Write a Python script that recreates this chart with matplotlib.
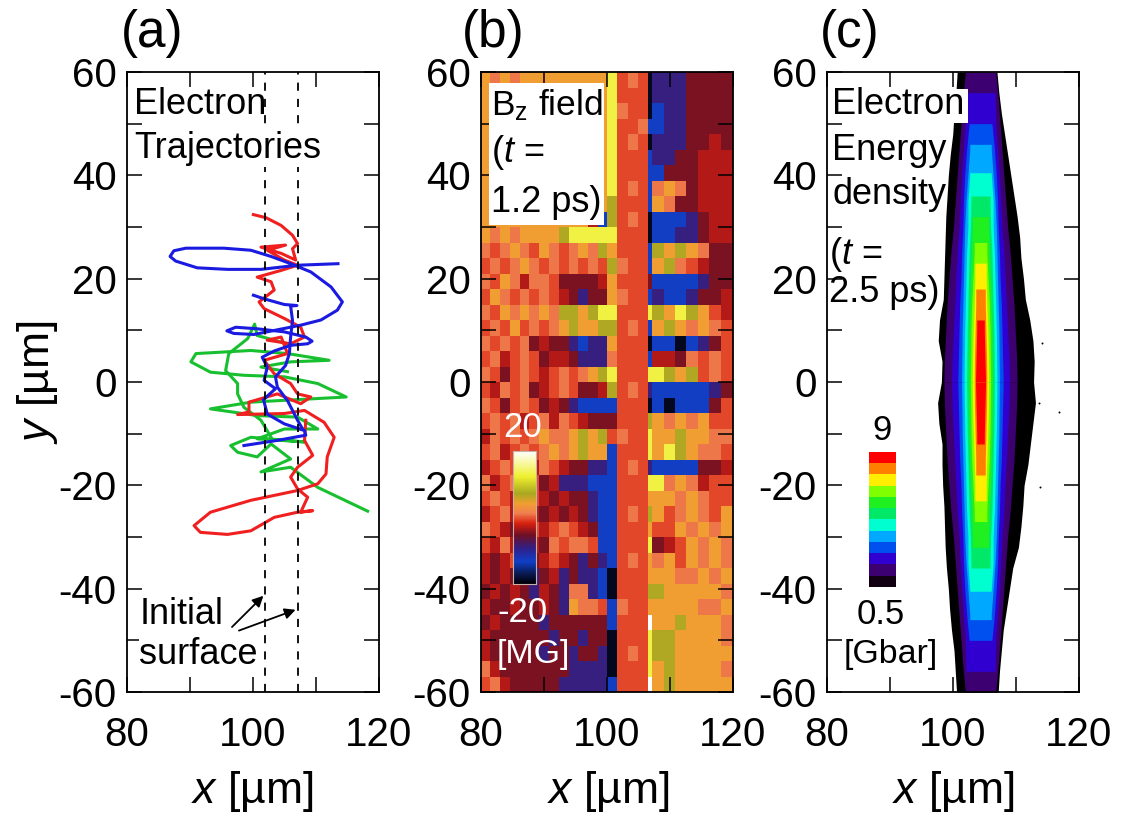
import numpy as np
import matplotlib
matplotlib.use("Agg")
import matplotlib.pyplot as plt
from matplotlib.colors import LinearSegmentedColormap, ListedColormap
from matplotlib.patches import Rectangle

plt.rcParams['font.family'] = ['Liberation Sans', 'DejaVu Sans']
plt.rcParams['mathtext.fontset'] = 'custom'
plt.rcParams['mathtext.rm'] = 'Liberation Sans'
plt.rcParams['mathtext.it'] = 'Liberation Sans:italic'

# ---------------- Shared ticks ----------------
x_ticks = [80, 90, 100, 110, 120]
x_tick_labels = ['80', '', '100', '', '120']
y_ticks = [60, 50, 40, 30, 20, 10, 0, -10, -20, -30, -40, -50, -60]
y_tick_labels = ['60', '', '40', '', '20', '', '0', '', '-20', '', '-40', '', '-60']

# ---------------- (a) trajectories ----------------
surface_x = [102.0, 107.2]

blue1_x = [113.5, 107.1, 101.3, 96.0, 91.2, 87.8, 86.9, 87.5, 89.4, 95.4, 99.7, 102.9, 106.0, 109.2, 112.4,
           114.2, 113.4, 110.8, 107.6, 103.9, 100.2, 97.0, 95.9, 97.3, 100.7, 105.0, 108.4, 109.4, 108.7,
           106.0, 103.4, 101.5, 102.3, 101.8, 103.6, 101.7, 102.3, 105.0, 108.2, 108.4, 103.9, 98.6]
blue1_y = [22.9, 22.6, 21.8, 21.8, 22.1, 23.4, 24.3, 25.4, 25.9, 25.9, 25.5, 24.3, 22.9, 21.3, 18.4,
           15.5, 13.9, 12.0, 11.0, 10.1, 9.2, 9.4, 9.9, 10.6, 10.3, 9.7, 8.7, 7.9, 7.4,
           7.1, 6.0, 4.8, 2.9, 0.3, -1.3, -3.4, -6.2, -8.1, -9.4, -10.3, -11.3, -12.3]
blue2_x = [100.1, 101.8, 105.0, 107.0, 106.0, 106.3, 106.0, 105.8, 105.2, 103.6, 103.9, 105.5, 107.1, 107.9]
blue2_y = [16.8, 16.1, 15.0, 14.8, 14.7, 11.9, 8.7, 5.5, 3.2, 1.0, -1.0, -3.6, -7.4, -9.1]

red_x = [100.1, 102.1, 104.5, 106.3, 107.1, 106.3, 106.8, 104.5, 101.3, 105.2, 102.3, 105.0, 107.1, 104.5,
         100.7, 102.9, 103.4, 101.0, 101.8, 105.0, 107.6, 108.2, 106.0, 102.3, 104.5, 105.5, 101.8, 103.4,
         106.0, 107.1, 109.2, 107.6, 103.9, 99.4, 99.4, 97.6, 105.0, 108.2, 111.3, 112.9, 111.8, 111.6,
         110.3, 107.1, 99.7, 93.3, 90.7, 91.7, 96.0, 99.7, 103.4, 107.1, 109.5, 107.6, 108.7, 107.1,
         106.0, 107.1, 109.5, 108.2, 108.4]
red_y = [32.4, 31.8, 30.3, 28.4, 26.8, 25.8, 23.6, 24.9, 26.1, 26.5, 25.5, 23.6, 22.6, 21.6,
         20.3, 19.4, 17.8, 15.5, 14.2, 12.3, 10.6, 8.7, 7.4, 8.1, 8.7, 5.5, 4.2, 1.6,
         -0.3, -2.3, -2.9, -4.2, -2.3, -3.9, -5.8, -6.3, -6.1, -5.5, -7.8, -10.7, -14.5, -17.8,
         -19.7, -21.0, -22.9, -25.2, -27.8, -29.1, -29.5, -28.8, -26.2, -25.2, -24.9, -25.2, -22.3, -20.7,
         -18.4, -16.5, -14.2, -11.3, -7.4]

green1_x = [118.2, 110.3, 106.0, 101.3, 106.0, 102.9, 100.7, 97.6, 96.5, 99.7, 108.2, 100.7, 105.0, 110.3,
            107.1, 100.7, 93.3, 99.7, 114.8, 110.3, 105.0, 98.6, 93.3, 90.2, 91.0, 99.7, 105.5, 112.1,
            106.0, 101.3, 105.5]
green1_y = [-25.0, -20.4, -16.5, -17.4, -14.9, -12.0, -14.5, -13.6, -12.3, -10.7, -11.6, -11.0, -9.1, -9.1,
            -6.8, -6.5, -5.2, -3.9, -2.9, -0.3, 1.0, 1.3, 1.9, 3.9, 5.5, 6.1, 5.5, 4.2,
            3.9, 2.9, 2.0]
green2_x = [102.9, 101.3, 98.6, 97.6, 97.6, 95.7, 96.2, 99.2, 100.3, 100.7, 105.5]
green2_y = [-10.7, -7.4, -4.9, -2.3, -0.3, 2.2, 5.5, 8.4, 11.2, 9.0, 7.4]

# ---------------- (b) Bz field, one letter per cell ----------------
# letter -> field in MG
bz_codes = {'k': -19, 'b': -13, 'n': -9, 'd': -5, 'r': -3, 'e': -0.5, 'o': 1.0, 'a': 4.2,
            'l': 7.0, 'y': 13, 'w': 20}
bz_x_edges = [80, 81.55, 83.1, 84.65, 86.2, 87.75, 89.3, 90.85, 92.4, 93.95, 95.5, 97.05, 98.6, 100.1,
              101.7, 103.3, 104.9, 106.5, 107.2, 109.0, 110.8, 112.6, 114.4, 116.2, 118.1, 120]
bz_y_edges = list(range(60, -61, -3))
# columns: 13 left, surface, 3 in the foil, surface, 7 right
bz_rows = [
    "aoaoaaaaaaaaa y eoe k nnndddd",
    "aaoaaaaaaaaaa y eee k nnndddd",
    "aaaaaaaaaaaaa y oee k bnndddd",
    "aaaaaaaaaaaaa y eeo b bnndddd",
    "aaaaaaaaaaaaa y eoe k nnnddrd",
    "aaaaaaaaaaaaa y eee b nnddrrr",
    "aaaaaaaaaaaaa y eee b bdddrrr",
    "aaaaaaaaaaaaa y eoe b oaodrrr",
    "aaaaaaaaaaaaa l eee b aoddrrr",
    "aaaaaaaaaaarb l eoe k bbbndrr",
    "aoaoaaaalyyyy y eee k bbnndrr",
    "oeoaoeaoeoaol a eee b lalaodd",
    "eoeoaoeoeoeoe l oee b aloerdd",
    "oeaorooeddddr a eee d bbbbndd",
    "eaoeoeoerdndd a oee b nbbnddr",
    "oeaoaoaollaly y eee y laylaer",
    "eoeaeoeoalaal l eoe b alaoaoe",
    "oeoeodrddnbnn a eee k bbkbnde",
    "eoreoedrrdnnn o eee b rrdoeoe",
    "oedeoereoeoal y eee y ylaleoe",
    "eroeodreoeddr l eoe n bbbbbnd",
    "oedeoedrdnbbb b eee k bkbbbde",
    "eoeoreoroerdd d eee l aoaoaee",
    "roeoeoaooalal e oee y aalaaoo",
    "eoreoeoaoalaa b eee y aylaooe",
    "reoeoroerddnn b eoe n bbbbddr",
    "oreoredrnnnbb b eee y yoaoree",
    "eoerderdrddnb b eee a aaoaoee",
    "reorerdrdrdnb b eoe l aeoaoea",
    "oerdrereoerdb b eee a eeaoaoa",
    "erorerdoeooeb b eee y dreaoao",
    "rdrerdrerdndn b eoe a oaeaoao",
    "rdrdrndrndnnb k eee a aaooaoa",
    "drdrdnrdnoonb k eee l laaaaao",
    "rddrddrdnaooe b oee a aaaaooa",
    "drddddndddddd b eee w aalaaao",
    "rddddddnddndd k eee y llaaaao",
    "rdddddnddnddn k eoe y llaaaaa",
    "ordddddddnnnn k eee y alaaaao",
    "eordddddnnnnn b eee w alaaaaa",
]
bz_stops = [(-20, '#000008'), (-17, '#0a1a50'), (-13.4, '#1040c8'), (-9.4, '#302088'), (-5.3, '#701024'),
            (-1.8, '#d8200f'), (1.3, '#f08050'), (4.3, '#f0a030'), (7.3, '#a8a820'), (12.4, '#f0f030'),
            (20, '#ffffff')]

# ---------------- (c) energy density bands ----------------
energy_levels = ['#120012', '#3c0070', '#3000d0', '#0050f0', '#00a8ff', '#00ffd0', '#00e868',
                 '#20f020', '#80ff00', '#ffee00', '#ff7f00', '#ff0000']
energy_center = 104.4
band_y = [0, 5, 10, 15, 20, 25, 30, 35, 40, 45, 50, 55, 60]
band_purple = [5.8, 5.7, 5.5, 5.3, 5.0, 4.7, 4.3, 4.0, 3.7, 3.4, 3.1, 2.8, 2.4]
band_indigo = [4.6, 4.5, 4.3, 4.1, 3.9, 3.7, 3.4, 3.2, 3.0, 2.7, 2.4, 2.3]
band_blue = [3.6, 3.5, 3.4, 3.3, 3.1, 3.0, 2.8, 2.7, 2.5, 2.2, 1.8]
band_azure = [3.0, 2.95, 2.9, 2.8, 2.7, 2.6, 2.5, 2.3, 2.0, 1.7]
band_cyan = [2.6, 2.55, 2.5, 2.4, 2.3, 2.2, 2.0, 2.0, 1.7]
band_spring = [2.2, 2.15, 2.1, 2.0, 1.9, 1.8, 1.6, 1.5]
band_green = [1.9, 1.85, 1.8, 1.7, 1.6, 1.4, 1.3]
band_yellowgreen = [1.6, 1.55, 1.5, 1.4, 1.2, 1.0]
band_yellow = [1.3, 1.25, 1.15, 1.0, 0.9]
band_orange = [1.0, 0.95, 0.85, 0.75]
band_red = [0.8, 0.7, 0.6]
# y where each band ends, centre of the plasma
band_tips = [60, 56, 50, 46, 40.5, 36, 32, 27, 23, 18, 12]

black_y = [60, 56, 52, 48, 44, 40, 36, 32, 28, 24, 20, 16, 12, 8, 4, 0, -4, -8, -12, -16, -20,
           -24, -28, -32, -36, -40, -44, -48, -52, -56, -60]
black_left = [100.7, 100.5, 100.2, 100.0, 99.6, 99.3, 99.1, 98.9, 98.8, 98.7, 98.6, 98.5, 97.9, 97.7, 98.3,
              98.2, 97.6, 97.8, 98.3, 98.3, 98.4, 98.6, 98.7, 98.8, 99.0, 99.3, 99.5, 99.8, 100.2, 100.4, 100.6]
black_right = [107.0, 107.3, 107.7, 108.2, 108.7, 109.2, 109.7, 110.2, 110.6, 110.8, 111.2, 111.5, 112.2, 112.7,
               112.9, 112.8, 113.1, 112.7, 112.3, 111.9, 111.3, 111.1, 110.8, 110.4, 109.5, 109.0, 108.5,
               108.0, 107.7, 107.4, 107.2]
speck_x = [114.2, 116.9, 113.9, 113.6]
speck_y = [7.5, -5.9, -20.4, -4.0]

# ---------------- Figure ----------------
W, H = 1123, 818
fig = plt.figure(figsize=(W / 100, H / 100), dpi=100, facecolor='white')


def make_axes(left_px):
    ax = fig.add_axes([left_px / W, 1 - 692 / H, 252.5 / W, 620 / H])
    ax.set_xlim(80, 120)
    ax.set_ylim(-60, 60)
    ax.set_xticks(x_ticks)
    ax.set_xticklabels(x_tick_labels)
    ax.set_yticks(y_ticks)
    ax.set_yticklabels(y_tick_labels)
    ax.tick_params(direction='in', top=True, right=True, length=10.5, width=1.1, labelsize=29)
    ax.tick_params(axis='x', pad=17)
    ax.tick_params(axis='y', pad=7)
    for s in ax.spines.values():
        s.set_linewidth(1.3)
        s.set_zorder(6)
    return ax


def put(px, py, s, **kw):
    kw.setdefault('fontsize', 26)
    kw.setdefault('va', 'center')
    fig.text(px / W, 1 - py / H, s, **kw)


# --- (a) ---
ax_a = make_axes(126.5)
line_style = dict(lw=2.2, solid_joinstyle='round')
ax_a.plot(green1_x, green1_y, color='#18c030', **line_style)
ax_a.plot(green2_x, green2_y, color='#18c030', **line_style)
ax_a.plot(red_x, red_y, color='#f02020', **line_style)
ax_a.plot(blue1_x, blue1_y, color='#1a1ae0', **line_style)
ax_a.plot(blue2_x, blue2_y, color='#1a1ae0', **line_style)
for sx in surface_x:
    ax_a.axvline(sx, color='black', lw=1.3, dashes=(4.5, 4.5))
ax_a.annotate('', xy=(102.0, -41), xytext=(96.4, -47.8),
              arrowprops=dict(arrowstyle='-|>', color='black', lw=1.3, mutation_scale=16))
ax_a.annotate('', xy=(107.2, -43.9), xytext=(97.4, -48.3),
              arrowprops=dict(arrowstyle='-|>', color='black', lw=1.3, mutation_scale=16))
put(134, 105, 'Electron')
put(134, 148, 'Trajectories', bbox=dict(fc='white', ec='none', pad=1))
put(140, 615, 'Initial')
put(139, 655, 'surface', bbox=dict(fc='white', ec='none', pad=0))

# --- (b) ---
ax_b = make_axes(480.5)
bz_values = np.array([[bz_codes[c] for c in row.replace(' ', '')] for row in bz_rows])
bz_cmap = LinearSegmentedColormap.from_list('bz', [((v + 20) / 40, c) for v, c in bz_stops])
ax_b.pcolormesh(bz_x_edges, bz_y_edges, bz_values, cmap=bz_cmap, vmin=-20, vmax=20, zorder=1)
ax_b.set_axisbelow(False)
ax_b.add_patch(Rectangle((81.4, 30.3), 18.1, 27.6, fc='white', ec='none', zorder=3))
put(491, 105, 'B$_{\\mathrm{z}}$ field', zorder=5, fontsize=25.5)
put(491, 153, '($t$ =', zorder=5)
put(491, 202, '1.2 ps)', zorder=5)
put(523, 427, '20', color='white', ha='center', fontsize=25)
put(523, 613, '-20', color='white', ha='center', fontsize=25)
put(533, 655, '[MG]', color='white', ha='center', fontsize=24.5)
cb_b = fig.add_axes([513 / W, 1 - 584 / H, 23 / W, 133 / H])
cb_b.imshow(np.linspace(20, -20, 200).reshape(-1, 1), cmap=bz_cmap, vmin=-20, vmax=20, aspect='auto')
cb_b.set_xticks([])
cb_b.set_yticks([])
for s in cb_b.spines.values():
    s.set_color('#c8b0a8')
    s.set_linewidth(0.8)

# --- (c) ---
ax_c = make_axes(826.5)
ax_c.fill_betweenx(black_y, black_left, black_right, color='black', lw=0, zorder=1)
ax_c.scatter(speck_x, speck_y, s=2, color='black', lw=0, zorder=1)
bands = [band_purple, band_indigo, band_blue, band_azure, band_cyan, band_spring, band_green,
         band_yellowgreen, band_yellow, band_orange, band_red]
for i, hw in enumerate(bands):
    # flat-ended band: widths at the knots, last width held up to the tip
    ys = list(band_y[:len(hw)])
    hs = list(hw)
    if band_tips[i] > ys[-1]:
        ys.append(band_tips[i])
        hs.append(hs[-1])
    ys = np.array(ys)
    hs = np.array(hs)
    for sign in (1, -1):
        ax_c.fill_betweenx(sign * ys, energy_center - hs, energy_center + hs,
                           color=energy_levels[i + 1], lw=0, zorder=2 + i * 0.01)
ax_c.add_patch(Rectangle((80.6, 50.1), 21.8, 6.6, fc='white', ec='none', zorder=3))
put(832, 105, 'Electron', zorder=5)
put(832, 150, 'Energy', zorder=5)
put(832, 195, 'density', zorder=5)
put(829, 255, '($t$ =', zorder=5)
put(829, 293, '2.5 ps)', zorder=5)
put(882, 430, '9', ha='center', fontsize=25)
put(881, 615, '0.5', ha='center', fontsize=25)
put(891, 655, '[Gbar]', ha='center', fontsize=24.5)
cb_c = fig.add_axes([869 / W, 1 - 587 / H, 27 / W, 135 / H])
cb_c.imshow(np.arange(len(energy_levels))[::-1].reshape(-1, 1), cmap=ListedColormap(energy_levels),
            aspect='auto', interpolation='nearest')
cb_c.set_xticks([])
cb_c.set_yticks([])
for s in cb_c.spines.values():
    s.set_visible(False)

# --- panel letters and axis labels ---
for px, letter in zip([152, 493, 850], ['(a)', '(b)', '(c)']):
    put(px, 33, letter, ha='center', fontsize=37)
for px in [252, 608, 953]:
    put(px, 792, '$x$ [µm]', ha='center', fontsize=32)
put(37, 382, '$y$ [µm]', ha='center', rotation=90, fontsize=32)

fig.savefig('out.png', dpi=100)
